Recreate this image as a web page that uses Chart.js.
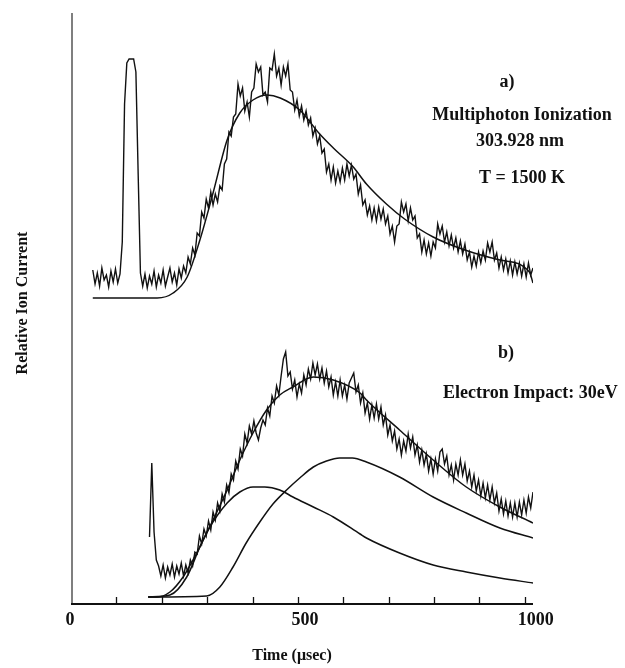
<!DOCTYPE html>
<html>
<head>
<meta charset="utf-8">
<script src="https://cdn.jsdelivr.net/npm/chart.js@4"></script>
<style>
  body { margin: 0; background: #fff; }
  canvas { display: block; }
</style>
</head>
<body>
<canvas id="ionChart" width="625" height="668"></canvas>
<script>
// time axis (usec), relative ion current in arbitrary units
const timeStep = 5
const traceAStart = 48
const traceBStart = 173
const xTicks = [0, 100, 200, 300, 400, 500, 600, 700, 800, 900, 1000]
const xTickLabels = ['0', '', '', '', '', '500', '', '', '', '', '1000']

// a) multiphoton ionization, measured signal (laser spike at ~130 usec)
const traceA = [
  334, 320, 331, 318, 336, 324, 329, 317, 333, 322,
  335, 321, 330, 362, 500, 541, 545, 545, 545, 532,
  430, 331, 318, 330, 316, 328, 320, 333, 317, 329,
  321, 334, 318, 327, 336, 322, 331, 319, 335, 326,
  338, 331, 347, 340, 356, 349, 371, 368, 392, 386,
  405, 396, 412, 399, 410, 402, 418, 414, 440, 445,
  472, 468, 487, 490, 520, 508, 516, 493, 502, 487,
  512, 516, 540, 532, 537, 509, 512, 502, 536, 534,
  550, 528, 536, 519, 537, 528, 540, 514, 512, 494,
  504, 488, 498, 484, 493, 479, 486, 468, 476, 460,
  468, 451, 455, 432, 440, 424, 437, 421, 433, 422,
  436, 424, 440, 428, 439, 425, 430, 410, 419, 399,
  404, 389, 398, 384, 396, 383, 397, 385, 395, 380,
  388, 370, 378, 362, 378, 380, 402, 392, 400, 383,
  396, 384, 388, 366, 370, 352, 364, 350, 361, 348,
  362, 356, 380, 370, 378, 362, 372, 358, 369, 356,
  366, 352, 363, 350, 360, 344, 352, 337, 348, 338,
  352, 341, 353, 344, 361, 352, 362, 344, 351, 336,
  347, 334, 345, 331, 343, 329, 342, 330, 341, 328,
  340, 327, 341, 329, 336
]
const fitATime = [48, 190, 225, 256, 284, 313, 344, 372, 401, 432, 461, 504, 548, 578, 622, 651, 695, 735, 798, 868, 945, 1010, 1018]
const fitAValue = [306, 306, 311, 327, 364, 411, 464, 491, 504, 509, 506, 494, 470, 456, 437, 420, 400, 385, 367, 354, 344, 332, 321]

// b) electron impact 30 eV, measured signal
const traceB = [
  67, 141, 72, 44, 38, 28, 39, 26, 37, 29,
  40, 27, 38, 30, 41, 28, 39, 31, 44, 38,
  52, 50, 68, 60, 75, 68, 83, 74, 92, 84,
  101, 93, 110, 102, 119, 111, 130, 124, 143, 135,
  155, 148, 170, 161, 178, 170, 183, 171, 164, 176,
  184, 179, 196, 188, 208, 201, 218, 209, 228, 245,
  252, 228, 232, 215, 224, 207, 220, 211, 229, 219,
  235, 225, 241, 229, 240, 225, 236, 221, 233, 217,
  227, 209, 222, 208, 224, 208, 219, 205, 221, 226,
  231, 212, 219, 201, 211, 191, 201, 185, 199, 186,
  200, 185, 197, 179, 189, 169, 179, 163, 173, 155,
  165, 149, 163, 153, 170, 156, 167, 149, 159, 142,
  154, 139, 150, 133, 145, 130, 145, 133, 152, 155,
  140, 148, 129, 139, 124, 140, 129, 144, 129, 140,
  123, 133, 117, 129, 113, 124, 108, 121, 106, 119,
  104, 117, 101, 111, 93, 105, 90, 103, 88, 101,
  87, 101, 87, 102, 89, 104, 91, 107, 96, 112
]
const fitBTime = [170, 218, 255, 284, 313, 344, 372, 401, 431, 460, 489, 534, 578, 637, 651, 724, 798, 871, 945, 1018]
const fitBValue = [7, 9, 27, 57, 84, 114, 144, 171, 194, 209, 217, 227, 224, 211, 204, 174, 144, 117, 97, 81]
const fastTime = [170, 189, 218, 247, 277, 306, 344, 372, 401, 427, 460, 489, 534, 578, 637, 651, 724, 798, 871, 945, 1018]
const fastValue = [7, 7, 12, 27, 51, 77, 101, 112, 117, 117, 114, 107, 97, 87, 70, 66, 51, 39, 32, 26, 21]
const slowTime = [170, 299, 328, 357, 386, 416, 445, 475, 504, 534, 563, 592, 620, 651, 724, 798, 871, 945, 1018]
const slowValue = [7, 8, 17, 37, 61, 82, 100, 114, 126, 137, 143, 146, 146, 142, 127, 107, 91, 76, 66]

const sampled = (start, values) => values.map((v, i) => ({ x: start + i * timeStep, y: v }))
const paired = (times, values) => values.map((v, i) => ({ x: times[i], y: v }))

const serif = '"Liberation Serif", "DejaVu Serif", serif'

const noisy = (label, data) => ({
  label: label, data: data,
  borderColor: '#111', borderWidth: 1.4, pointRadius: 0, tension: 0
})
const smooth = (label, data) => ({
  label: label, data: data,
  borderColor: '#111', borderWidth: 1.5, pointRadius: 0, cubicInterpolationMode: 'monotone'
})

const figureDecor = {
  id: 'figureDecor',
  afterDraw(chart) {
    const c = chart.ctx
    const xs = chart.scales.x
    const ys = chart.scales.y
    const x0 = xs.getPixelForValue(0)
    const y0 = ys.getPixelForValue(0)
    c.save()
    // left axis
    c.strokeStyle = '#555'
    c.lineWidth = 1.5
    c.beginPath()
    c.moveTo(x0 + 1, ys.getPixelForValue(ys.max))
    c.lineTo(x0 + 1, y0)
    c.stroke()
    // time axis with inward ticks
    c.strokeStyle = '#111'
    c.lineWidth = 2
    c.beginPath()
    c.moveTo(x0, y0)
    c.lineTo(xs.getPixelForValue(xs.max), y0)
    c.stroke()
    c.lineWidth = 1.3
    xTicks.forEach(t => {
      if (t === 0) return
      const px = Math.round(xs.getPixelForValue(t)) + 0.5
      c.beginPath()
      c.moveTo(px, y0)
      c.lineTo(px, y0 - 7)
      c.stroke()
    })
    // tick labels
    c.fillStyle = '#111'
    c.textAlign = 'center'
    c.textBaseline = 'middle'
    c.font = 'bold 18px ' + serif
    const labelShift = [0, 0, 0, 0, 0, 8, 0, 0, 0, 0, 12]
    xTicks.forEach((t, i) => {
      if (!xTickLabels[i]) return
      c.fillText(xTickLabels[i], xs.getPixelForValue(t) + labelShift[i] - 1, 620)
    })
    // axis titles
    c.font = 'bold 16px ' + serif
    c.fillText('Time (\u03bcsec)', 292, 656)
    c.save()
    c.translate(23, 303)
    c.rotate(-Math.PI / 2)
    c.fillText('Relative Ion Current', 0, 0)
    c.restore()
    // panel notes
    c.font = 'bold 18px ' + serif
    c.fillText('a)', 507, 82)
    c.fillText('Multiphoton Ionization', 522, 115)
    c.fillText('303.928 nm', 520, 141)
    c.fillText('T = 1500 K', 522, 178)
    c.fillText('b)', 506, 353)
    c.textAlign = 'left'
    c.fillText('Electron Impact: 30eV', 443, 393)
    c.restore()
  }
}

new Chart(document.getElementById('ionChart'), {
  type: 'line',
  data: {
    datasets: [
      noisy('MPI signal', sampled(traceAStart, traceA)),
      smooth('MPI fit', paired(fitATime, fitAValue)),
      noisy('EI signal', sampled(traceBStart, traceB)),
      smooth('EI fit', paired(fitBTime, fitBValue)),
      smooth('EI fast component', paired(fastTime, fastValue)),
      smooth('EI slow component', paired(slowTime, slowValue))
    ]
  },
  options: {
    responsive: false,
    animation: false,
    devicePixelRatio: 1,
    layout: { padding: { left: 71, right: 92, top: 13, bottom: 64 } },
    plugins: { legend: { display: false }, tooltip: { enabled: false } },
    scales: {
      x: { type: 'linear', min: 0, max: 1018, display: false },
      y: { type: 'linear', min: 0, max: 591, display: false }
    }
  },
  plugins: [figureDecor]
})
</script>
</body>
</html>
